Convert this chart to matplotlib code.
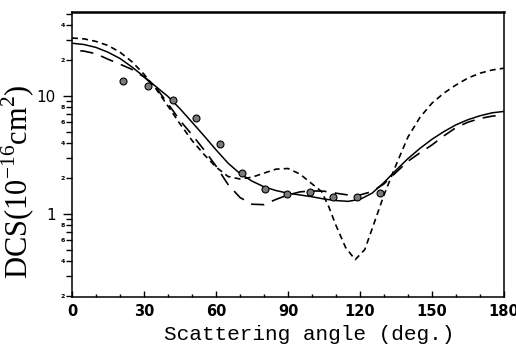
import numpy as np
import matplotlib
matplotlib.use('Agg')
import matplotlib.pyplot as plt
from matplotlib.ticker import FixedLocator, FixedFormatter

plt.rcParams['mathtext.fontset'] = 'custom'
plt.rcParams['mathtext.rm'] = 'Liberation Serif'
plt.rcParams['lines.scale_dashes'] = False

# measured DCS (points)
exp_angle = [21.4, 31.6, 41.9, 51.7, 61.5, 70.9, 80.3, 89.7, 99.1, 108.9, 118.9, 128.4]
exp_dcs = [13.4, 12.2, 9.3, 6.5, 3.9, 2.24, 1.62, 1.48, 1.53, 1.39, 1.39, 1.51]

# solid curve
solid_angle = [0, 5, 10, 15, 20, 25, 30, 35, 40, 45, 50, 55, 60, 65, 70, 75, 80, 85, 90,
               95, 100, 105, 110, 115, 120, 125, 130, 135, 140, 145, 150, 155, 160, 165,
               170, 175, 180]
solid_dcs = [28, 27.3, 25.8, 23.5, 20.8, 17.6, 14.6, 12.0, 9.9, 7.8, 6.0, 4.6, 3.5, 2.7,
             2.2, 1.9, 1.7, 1.58, 1.5, 1.45, 1.4, 1.34, 1.3, 1.28, 1.33, 1.5, 1.85, 2.35,
             2.95, 3.6, 4.3, 5.0, 5.7, 6.3, 6.8, 7.2, 7.4]

# short-dashed curve
short_angle = [0, 5, 10, 15, 20, 25, 30, 35, 40, 45, 50, 55, 60, 65, 70, 75, 80, 85, 90,
               95, 100, 104, 107, 110, 114, 118, 122, 126, 130, 135, 140, 145, 150, 155,
               160, 165, 170, 175, 180]
short_dcs = [31, 30.5, 29, 26.8, 23.5, 19.5, 15.3, 11.5, 8.2, 5.8, 4.2, 3.2, 2.5, 2.08,
             1.98, 2.05, 2.22, 2.4, 2.43, 2.18, 1.8, 1.55, 1.15, 0.8, 0.52, 0.41, 0.5,
             0.85, 1.45, 2.6, 4.5, 6.6, 8.7, 10.6, 12.4, 14.2, 15.6, 16.6, 17.2]

# long-dashed curve
long_angle = [0, 5, 10, 15, 20, 25, 30, 35, 40, 45, 50, 55, 60, 65, 70, 75, 80, 85, 90,
              95, 100, 105, 110, 115, 120, 125, 130, 135, 140, 145, 150, 155, 160, 165,
              170, 175, 180]
long_dcs = [24.5, 24, 22.8, 20.5, 18.6, 16.8, 14.5, 11.8, 8.6, 6.2, 4.7, 3.5, 2.55, 1.78,
            1.38, 1.21, 1.2, 1.33, 1.45, 1.54, 1.57, 1.56, 1.5, 1.45, 1.45, 1.55, 1.8,
            2.25, 2.8, 3.3, 3.85, 4.6, 5.4, 6.0, 6.45, 6.75, 6.9]

x_major = [0, 30, 60, 90, 120, 150, 180]
y_major = [1, 10]
y_minor = [0.2, 0.3, 0.4, 0.5, 0.6, 0.7, 0.8, 0.9, 2, 3, 4, 5, 6, 7, 8, 9, 20, 30, 40, 50]
y_minor_labels = ['2', '', '4', '', '6', '', '8', '', '2', '', '4', '', '6', '', '8', '',
                  '2', '', '4', '']

fig = plt.figure(figsize=(5.16, 3.51), dpi=100)
ax = fig.add_axes([72 / 516, 1 - 297 / 351, 432 / 516, 285 / 351])

ax.plot(solid_angle, solid_dcs, color='black', lw=1.1)
ax.plot(short_angle, short_dcs, color='black', lw=1.2, linestyle=(0, (4.3, 3.0)))
ax.plot(long_angle, long_dcs, color='black', lw=1.2, linestyle=(9.5, (9.5, 6.0)))
ax.plot(exp_angle, exp_dcs, 'o', ms=5.0, mfc='#7a7a7a', mec='black', mew=0.8)

ax.set_yscale('log')
ax.set_xlim(0, 180)
ax.set_ylim(0.198, 51.5)

ax.xaxis.set_major_locator(FixedLocator(x_major))
ax.xaxis.set_minor_locator(FixedLocator(np.arange(10, 180, 10)))
ax.tick_params(axis='x', which='major', direction='in', length=4, width=1, pad=5,
               labelsize=10.5)
ax.tick_params(axis='x', which='minor', direction='in', length=2, width=1)
for lab in ax.get_xticklabels():
    lab.set_fontweight('bold')

ax.yaxis.set_major_locator(FixedLocator(y_major))
ax.yaxis.set_major_formatter(FixedFormatter(['1', '10']))
ax.yaxis.set_minor_locator(FixedLocator(y_minor))
ax.yaxis.set_minor_formatter(FixedFormatter(y_minor_labels))
ax.tick_params(axis='y', which='major', direction='out', length=6.5, width=1, pad=5,
               labelsize=11)
ax.tick_params(axis='y', which='minor', direction='out', length=4.3, width=1, pad=1,
               labelsize=4.5)
for lab in ax.get_yticklabels(minor=True):
    lab.set_fontweight('bold')

ax.tick_params(top=False, right=False)
for sp in ax.spines.values():
    sp.set_linewidth(1.1)
ax.spines['top'].set_linewidth(1.8)

ax.set_xlabel('Scattering angle (deg.)', family='Liberation Mono', fontsize=15.2)
ax.xaxis.set_label_coords(0.549, -0.1)
ax.set_ylabel(r'DCS(10$^{-16}$cm$^{2}$)', family='Liberation Serif', fontsize=22)
ax.yaxis.set_label_coords(-0.08, 0.405)

fig.savefig('out.png', dpi=100)
